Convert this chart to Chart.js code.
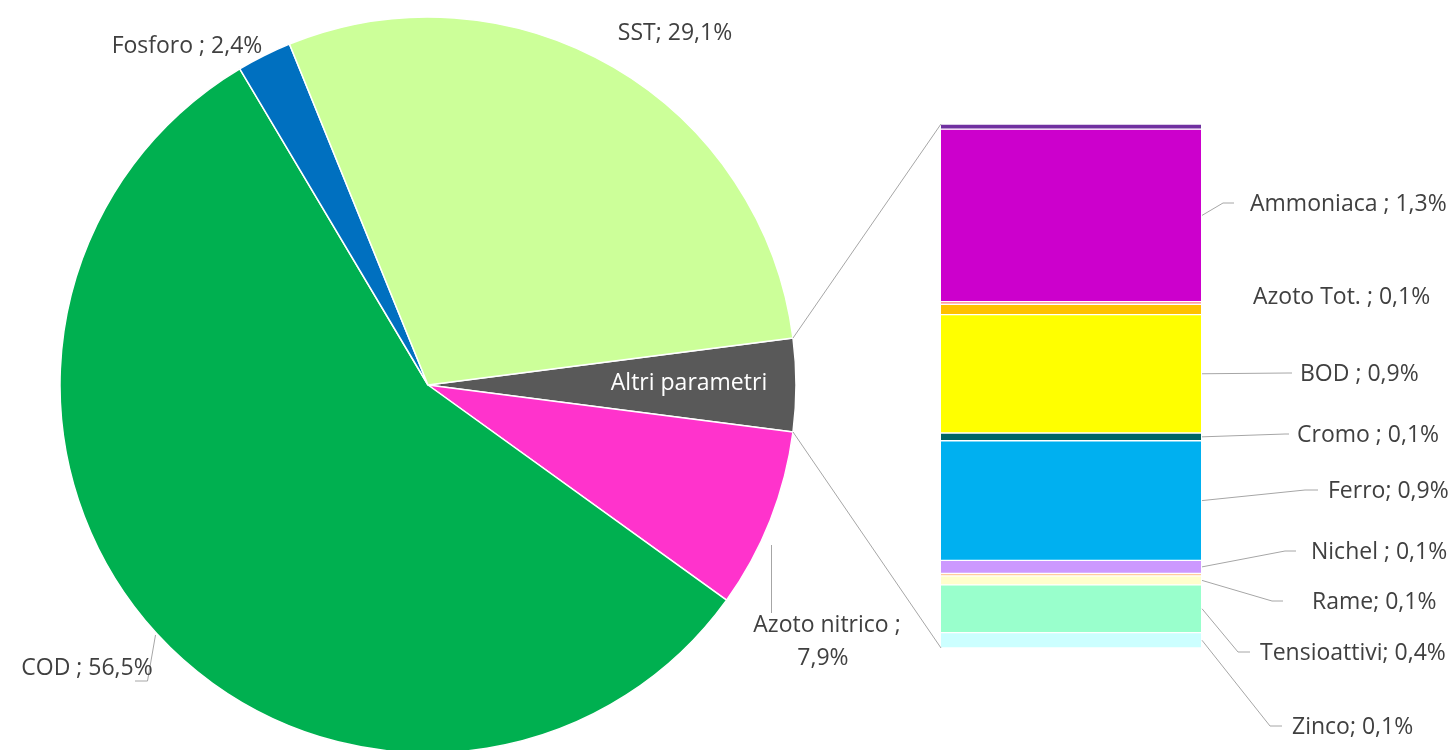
<!doctype html>
<html lang="it">
<head>
<meta charset="utf-8">
<title>Ripartizione dei parametri</title>
<style>
  html, body { margin: 0; padding: 0; background: #fff; overflow: hidden; }
  #wrap { position: relative; width: 1455px; height: 750px; }
  #wrap canvas { position: absolute; left: 0; top: 0; }
</style>
</head>
<body>
<div id="wrap">
  <canvas id="pie" width="1455" height="750"></canvas>
  <canvas id="bar" width="1455" height="750"></canvas>
</div>
<script src="https://cdn.jsdelivr.net/npm/chart.js"></script>
<script>
// main pie (values in %)
const pieNames  = ['Azoto nitrico ', 'COD ', 'Fosforo ', 'SST'];
const pieValues = [7.9, 56.5, 2.4, 29.1];
const pieColors = ['#FF33CC', '#00B050', '#0070C0', '#CCFF99'];

// "Altri parametri" broken down in the bar (values in %)
const barNames  = ['Alluminio', 'Ammoniaca ', 'Arsenico', 'Azoto Tot. ', 'BOD ', 'Cromo ', 'Ferro', 'Nichel ', 'Piombo', 'Rame', 'Tensioattivi', 'Zinco'];
const barValues = [0.04, 1.34, 0.02, 0.08, 0.92, 0.06, 0.93, 0.10, 0.02, 0.07, 0.37, 0.12];
const barColors = ['#7030A0', '#CC00CC', '#FF7C80', '#FFC000', '#FFFF00', '#006666', '#00B0F0', '#CC99FF', '#FFCC99', '#FFFFCC', '#99FFCC', '#CCFFFF'];
const barShown  = [false, true, false, true, true, true, true, true, false, true, true, true];

const altri = barValues.reduce((a, b) => a + b, 0);
const total = altri + pieValues.reduce((a, b) => a + b, 0);
const pct = v => v.toFixed(1).replace('.', ',') + '%';

const FONT = '23px "Open Sans"';
const TXT = '#404040';
const LINE = '#A6A6A6';

// label layout: [text left x, text middle y, elbow x, end x] (elbow null = no leader)
const barLabelPos = {
  'Ammoniaca ':  [1250, 204, 1223, 1234],
  'Azoto Tot. ': [1253, 297, null, null],
  'BOD ':        [1300, 374, 1288, 1292],
  'Cromo ':      [1297, 435, 1285, 1289],
  'Ferro':       [1328, 491, 1305, 1318],
  'Nichel ':     [1311, 552, 1285, 1296],
  'Rame':        [1312, 602, 1272, 1283],
  'Tensioattivi':[1260, 653, 1238, 1250],
  'Zinco':       [1292, 727, 1270, 1282]
};

function line(ctx, pts) {
  ctx.beginPath();
  ctx.moveTo(pts[0][0], pts[0][1]);
  for (let i = 1; i < pts.length; i++) ctx.lineTo(pts[i][0], pts[i][1]);
  ctx.stroke();
}

const pieText = {
  id: 'pieText',
  afterDraw(chart) {
    const ctx = chart.ctx;
    ctx.save();
    ctx.font = FONT;
    ctx.textBaseline = 'middle';
    ctx.textAlign = 'center';
    ctx.strokeStyle = LINE;
    ctx.lineWidth = 1;
    // leaders
    line(ctx, [[155.5, 635], [147.5, 681], [135, 681]]);
    line(ctx, [[771.5, 545], [771.5, 613]]);

    ctx.fillStyle = TXT;
    ctx.fillText('SST; ' + pct(pieValues[3]), 675, 33);
    ctx.fillText('Fosforo ; ' + pct(pieValues[2]), 187, 46);
    ctx.fillText('COD ; ' + pct(pieValues[1]), 87, 668);
    ctx.fillText('Azoto nitrico ;', 827, 625);
    ctx.fillText(pct(pieValues[0]), 823, 658);
    ctx.fillStyle = '#FFFFFF';
    ctx.fillText('Altri parametri', 689, 383);
    ctx.restore();
  }
};

const pieChart = new Chart(document.getElementById('pie'), {
  type: 'pie',
  data: {
    labels: ['Altri parametri'].concat(pieNames),
    datasets: [{
      data: [altri].concat(pieValues),
      backgroundColor: ['#595959'].concat(pieColors),
      borderColor: '#FFFFFF',
      borderWidth: 1.5,
      radius: 368
    }]
  },
  options: {
    responsive: false,
    animation: false,
    devicePixelRatio: 1,
    rotation: 90 - altri / total * 180,
    layout: { padding: { left: 0, right: 599, top: 20, bottom: 0 } },
    plugins: { legend: { display: false }, tooltip: { enabled: false } }
  },
  plugins: [pieText]
});

const barText = {
  id: 'barText',
  afterDraw(chart) {
    const ctx = chart.ctx;
    const { left, top, bottom } = chart.chartArea;
    const arc = pieChart.getDatasetMeta(0).data[0];
    const edge = a => [arc.x + Math.cos(a) * arc.outerRadius, arc.y + Math.sin(a) * arc.outerRadius];
    ctx.save();
    ctx.strokeStyle = LINE;
    ctx.lineWidth = 1;
    line(ctx, [edge(arc.startAngle), [left, top]]);
    line(ctx, [edge(arc.endAngle), [left, bottom]]);

    ctx.font = FONT;
    ctx.textBaseline = 'middle';
    ctx.textAlign = 'left';
    barNames.forEach((name, i) => {
      if (!barShown[i]) return;
      const el = chart.getDatasetMeta(i).data[0];
      const pos = barLabelPos[name];
      const sx = el.x + el.width / 2 + 1;
      const sy = (el.y + el.base) / 2;
      if (pos[2] !== null) {
        line(ctx, [[sx, sy], [pos[2], pos[1] - 1], [pos[3], pos[1] - 1]]);
      }
      ctx.fillStyle = TXT;
      ctx.fillText(name + '; ' + pct(barValues[i]), pos[0], pos[1]);
    });
    ctx.restore();
  }
};

new Chart(document.getElementById('bar'), {
  type: 'bar',
  data: {
    labels: ['Altri parametri'],
    datasets: barNames.map((n, i) => ({
      label: n,
      data: [barValues[i]],
      backgroundColor: barColors[i],
      borderColor: '#FFFFFF',
      borderWidth: { top: 1, bottom: 1, left: 0, right: 0 },
      borderSkipped: false,
      barPercentage: 1,
      categoryPercentage: 1
    }))
  },
  options: {
    responsive: false,
    animation: false,
    devicePixelRatio: 1,
    layout: { padding: { left: 941, right: 254, top: 124, bottom: 102 } },
    scales: {
      x: { display: false, stacked: true },
      y: { display: false, stacked: true, reverse: true, min: 0, max: altri }
    },
    plugins: { legend: { display: false }, tooltip: { enabled: false } }
  },
  plugins: [barText]
});
</script>
</body>
</html>
